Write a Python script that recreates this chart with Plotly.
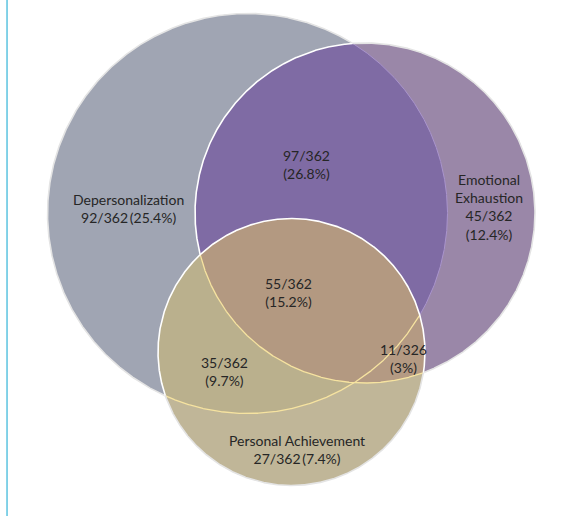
import numpy as np
import plotly.graph_objects as go

# ---- data ----
set_names = ["Depersonalization", "Emotional<br>Exhaustion", "Personal Achievement"]
set_counts = [92, 45, 27]
set_totals = [362, 362, 362]
set_pcts = ["25.4", "12.4", "7.4"]

overlap_names = ["Dep ∩ EE", "Dep ∩ PA", "EE ∩ PA", "All three"]
overlap_counts = [97, 35, 11, 55]
overlap_totals = [362, 362, 326, 362]
overlap_pcts = ["26.8", "9.7", "3", "15.2"]

# ---- geometry (pixel-like coordinates, y down) ----
W, H = 563, 516
circles = {
    "dep": (247.5, 213.5, 200.0),
    "ee": (365.0, 213.0, 170.0),
    "pa": (291.5, 352.0, 133.5),
}

def circ_pts(key, n=1440):
    cx, cy, r = circles[key]
    t = np.linspace(0, 2 * np.pi, n, endpoint=True)
    return cx + r * np.cos(t), cy + r * np.sin(t)

def inside(key, x, y, eps=0.0):
    cx, cy, r = circles[key]
    return (x - cx) ** 2 + (y - cy) ** 2 <= (r + eps) ** 2

def intersection_poly(keys):
    xs, ys = [], []
    for k in keys:
        x, y = circ_pts(k, 2880)
        m = np.ones_like(x, dtype=bool)
        for o in keys:
            if o != k:
                m &= inside(o, x, y, 0.01)
        xs.append(x[m]); ys.append(y[m])
    x = np.concatenate(xs); y = np.concatenate(ys)
    mx, my = x.mean(), y.mean()
    order = np.argsort(np.arctan2(y - my, x - mx))
    x, y = x[order], y[order]
    return np.append(x, x[0]), np.append(y, y[0])

fig = go.Figure()

def add_fill(x, y, color):
    fig.add_trace(go.Scatter(x=x, y=y, mode="lines", fill="toself",
                             fillcolor=color, line=dict(width=0),
                             hoverinfo="skip", showlegend=False))

# fills, layered
x, y = circ_pts("dep"); add_fill(x, y, "#A0A5B3")
x, y = circ_pts("ee"); add_fill(x, y, "#9A87A8")
x, y = intersection_poly(["dep", "ee"]); add_fill(x, y, "#7F6BA4")
x, y = circ_pts("pa"); add_fill(x, y, "#C0B698")
x, y = intersection_poly(["dep", "pa"]); add_fill(x, y, "#BAB08D")
x, y = intersection_poly(["ee", "pa"]); add_fill(x, y, "#B49A83")
x, y = intersection_poly(["dep", "ee", "pa"]); add_fill(x, y, "#B39981")

# outlines, coloured by where they run
def add_outline(key, rules):
    x, y = circ_pts(key, 2880)
    for cond, color, width in rules:
        m = cond(x, y)
        yy = np.where(m, y, np.nan)
        fig.add_trace(go.Scatter(x=x, y=yy, mode="lines",
                                 line=dict(color=color, width=width),
                                 connectgaps=False, hoverinfo="skip",
                                 showlegend=False))

def outside_all(key):
    others = [k for k in circles if k != key]
    return lambda x, y: ~inside(others[0], x, y) & ~inside(others[1], x, y)

add_outline("dep", [
    (outside_all("dep"), "#E4E4E4", 1.6),
    (lambda x, y: inside("ee", x, y) & ~inside("pa", x, y), "#A994CC", 1.0),
    (lambda x, y: inside("pa", x, y), "#F6E3A0", 1.3),
])
add_outline("ee", [
    (outside_all("ee"), "#E4E4E4", 1.6),
    (lambda x, y: inside("dep", x, y) & ~inside("pa", x, y), "#FFFFFF", 1.6),
    (lambda x, y: inside("pa", x, y), "#F6E3A0", 1.3),
])
add_outline("pa", [
    (lambda x, y: ~inside("dep", x, y) & ~inside("ee", x, y), "#E4E4E4", 1.6),
    (lambda x, y: inside("dep", x, y) | inside("ee", x, y), "#FFFFFF", 1.6),
])

# labels
font = dict(family="Lato, 'Open Sans', sans-serif", size=14, color="#262626")
set_text = [
    f"{set_names[0]}<br>{set_counts[0]}/{set_totals[0]}\u2009({set_pcts[0]}%)",
    f"{set_names[1]}<br>{set_counts[1]}/{set_totals[1]}<br>({set_pcts[1]}%)",
    f"{set_names[2]}<br>{set_counts[2]}/{set_totals[2]}\u2009({set_pcts[2]}%)",
]
set_pos = [(128, 208), (489, 207), (297, 449)]
ov_text = [f"{c}/{t}<br>({p}%)" for c, t, p in zip(overlap_counts, overlap_totals, overlap_pcts)]
ov_pos = [(306, 164), (224, 371), (403, 358), (288, 292)]

for txt, (px, py) in zip(set_text + ov_text, set_pos + ov_pos):
    fig.add_annotation(x=px, y=py, text=txt, showarrow=False, font=font,
                       xanchor="center", yanchor="middle", align="center")

# left vertical rule
fig.add_shape(type="line", xref="paper", yref="paper", x0=0.0125, x1=0.0125,
              y0=0, y1=1, line=dict(color="#5BC3E0", width=1.5))

fig.update_xaxes(range=[0, W], visible=False)
fig.update_yaxes(range=[H, 0], visible=False)
fig.update_layout(width=W, height=H, margin=dict(l=0, r=0, t=0, b=0),
                  plot_bgcolor="white", paper_bgcolor="white")
fig.write_html("out.html", config={"displayModeBar": False},
               post_script="document.body.style.margin='0';document.body.style.overflow='hidden';")
